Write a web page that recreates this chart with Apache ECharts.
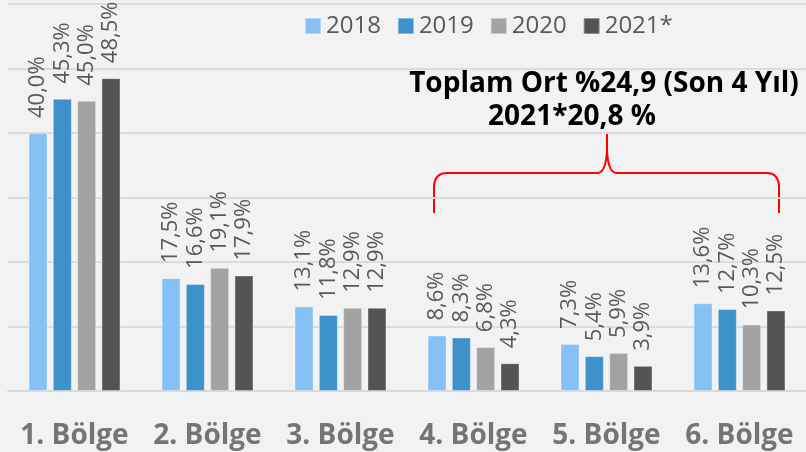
<!DOCTYPE html>
<html>
<head>
<meta charset="utf-8">
<script src="https://cdn.jsdelivr.net/npm/echarts@6/dist/echarts.min.js"></script>
<style>
  html, body { margin: 0; padding: 0; background: #f2f2f2; }
  #chart { width: 806px; height: 452px; }
</style>
</head>
<body>
<div id="chart"></div>
<script>
// 数据
const categories = ["1. Bölge", "2. Bölge", "3. Bölge", "4. Bölge", "5. Bölge", "6. Bölge"];
const years = ["2018", "2019", "2020", "2021*"];
const v2018 = [40.0, 17.5, 13.1, 8.6, 7.3, 13.6];
const v2019 = [45.3, 16.6, 11.8, 8.3, 5.4, 12.7];
const v2020 = [45.0, 19.1, 12.9, 6.8, 5.9, 10.3];
const v2021 = [48.5, 17.9, 12.9, 4.3, 3.9, 12.5];
const noteLines = ["Toplam Ort %24,9 (Son 4 Yıl)", "2021*20,8 %"];

const colors = ["#85c1f5", "#3e91c9", "#a3a3a3", "#545454"];
const font = "'Open Sans', 'DejaVu Sans', sans-serif";

const chart = echarts.init(document.getElementById("chart"));

function makeSeries(name, data, color) {
  return {
    name: name,
    type: "bar",
    barWidth: 19,
    barGap: "28%",
    itemStyle: { color: color, borderColor: "rgba(255,255,255,0.35)", borderWidth: 1 },
    label: {
      show: true,
      position: "top",
      rotate: 90,
      align: "left",
      verticalAlign: "middle",
      distance: 15,
      color: "#595959",
      fontFamily: font,
      fontSize: 22,
      formatter: p => p.value.toFixed(1).replace(".", ",") + "%"
    },
    data: data
  };
}

// 红色大括号
const braceStyle = { stroke: "#ff0000", lineWidth: 2, fill: null };
function seg(x1, y1, x2, y2) {
  return { type: "line", shape: { x1, y1, x2, y2 }, style: braceStyle };
}
function curve(x1, y1, cx, cy, x2, y2) {
  return { type: "bezierCurve", shape: { x1, y1, cpx1: cx, cpy1: cy, x2, y2 }, style: braceStyle };
}

const option = {
  backgroundColor: "#f2f2f2",
  animation: false,
  legend: {
    data: years,
    left: 299,
    top: 9,
    itemWidth: 16,
    itemHeight: 16,
    itemGap: 16,
    icon: "rect",
    textStyle: { color: "#595959", fontFamily: font, fontSize: 24 }
  },
  grid: { left: 8, right: -10, top: 4, bottom: 61 },
  xAxis: {
    type: "category",
    data: categories,
    axisLine: { show: true, lineStyle: { color: "#d9d9d9", width: 2 } },
    axisTick: { show: false },
    axisLabel: {
      interval: 0,
      color: "#757575",
      fontFamily: font,
      fontWeight: "bold",
      fontSize: 28,
      margin: 31
    }
  },
  yAxis: {
    type: "value",
    min: 0,
    max: 60,
    interval: 10,
    axisLabel: { show: false },
    axisLine: { show: false },
    axisTick: { show: false },
    splitLine: { lineStyle: { color: "#dcdcdc", width: 2 } }
  },
  graphic: [
    {
      type: "text",
      x: 604,
      y: 84,
      style: { text: noteLines[0], fill: "#000", font: "bold 28px " + font, align: "center", verticalAlign: "middle" }
    },
    {
      type: "text",
      x: 572,
      y: 117,
      style: { text: noteLines[1], fill: "#000", font: "bold 28px " + font, align: "center", verticalAlign: "middle" }
    },
    seg(434, 213, 434, 186),
    curve(434, 186, 435, 173, 447, 173),
    seg(447, 173, 598, 173),
    curve(598, 173, 606, 172, 607, 150),
    seg(607, 150, 607, 133),
    curve(607, 150, 608, 172, 616, 173),
    seg(616, 173, 767, 173),
    curve(767, 173, 778, 173, 779, 186),
    seg(779, 186, 779, 213)
  ],
  series: [
    makeSeries(years[0], v2018, colors[0]),
    makeSeries(years[1], v2019, colors[1]),
    makeSeries(years[2], v2020, colors[2]),
    makeSeries(years[3], v2021, colors[3])
  ]
};

chart.setOption(option);
</script>
</body>
</html>
